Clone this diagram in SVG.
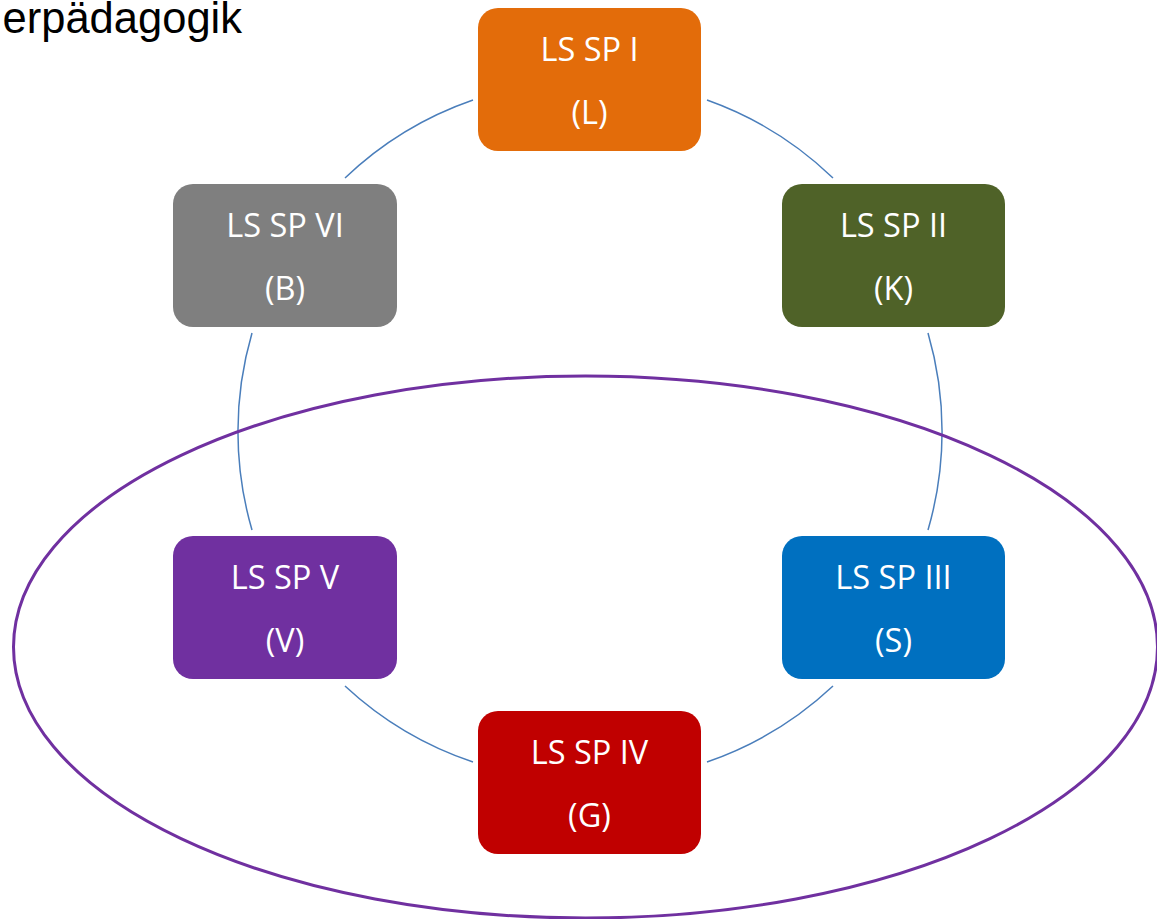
<svg xmlns="http://www.w3.org/2000/svg" width="1157" height="919" viewBox="0 0 1157 919">
<style>
.box{stroke:none}
.lbl{font-family:"Open Sans","Liberation Sans",sans-serif;font-size:32.5px;fill:#ffffff;text-anchor:middle}
.arc{fill:none;stroke:#4A7EBB;stroke-width:1.5}
</style>
<rect width="1157" height="919" fill="#ffffff"/>
<text x="242" y="33" font-family="Liberation Sans, Arial, sans-serif" font-size="43.5" fill="#000000" text-anchor="end">erpädagogik</text>
<g id="connectors">
<path class="arc" d="M345,178 A352,352 0 0 1 473,100"/>
<path class="arc" d="M707,100 A352,352 0 0 1 833,178"/>
<path class="arc" d="M928,333 A352,352 0 0 1 928,530"/>
<path class="arc" d="M833,686 A352,352 0 0 1 707,762"/>
<path class="arc" d="M473,762 A352,352 0 0 1 345,686"/>
<path class="arc" d="M252,530 A352,352 0 0 1 252,333"/>
</g>
<g id="n1"><rect class="box" x="478" y="8" width="223" height="143" rx="20" fill="#E36C0A"/><text class="lbl" x="589.5" y="61">LS SP I</text><text class="lbl" x="589.5" y="124">(L)</text></g>
<g id="n2"><rect class="box" x="782" y="184" width="223" height="143" rx="20" fill="#4F6228"/><text class="lbl" x="893.5" y="237">LS SP II</text><text class="lbl" x="893.5" y="300">(K)</text></g>
<g id="n3"><rect class="box" x="782" y="536" width="223" height="143" rx="20" fill="#0070C0"/><text class="lbl" x="893.5" y="589">LS SP III</text><text class="lbl" x="893.5" y="652">(S)</text></g>
<g id="n4"><rect class="box" x="478" y="711" width="223" height="143" rx="20" fill="#C00000"/><text class="lbl" x="589.5" y="764">LS SP IV</text><text class="lbl" x="589.5" y="827">(G)</text></g>
<g id="n5"><rect class="box" x="173" y="536" width="224" height="143" rx="20" fill="#7030A0"/><text class="lbl" x="285" y="589">LS SP V</text><text class="lbl" x="285" y="652">(V)</text></g>
<g id="n6"><rect class="box" x="173" y="184" width="224" height="143" rx="20" fill="#7F7F7F"/><text class="lbl" x="285" y="237">LS SP VI</text><text class="lbl" x="285" y="300">(B)</text></g>
<g id="ellipse"><ellipse cx="585.5" cy="647" rx="572" ry="271" fill="none" stroke="#7030A0" stroke-width="3"/></g>
</svg>
